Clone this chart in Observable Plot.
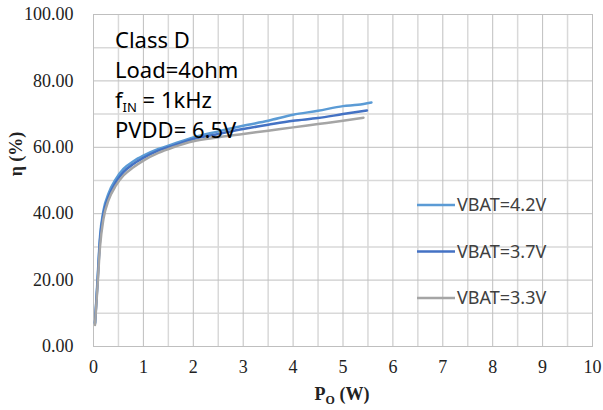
<!DOCTYPE html>
<html><head><meta charset="utf-8">
<script src="https://cdn.jsdelivr.net/npm/d3@7"></script>
<script src="https://cdn.jsdelivr.net/npm/@observablehq/plot@0.6"></script>
<style>body{margin:0;background:#fff}#c{position:relative;width:603px;height:410px}</style>
</head><body><div id="c"></div>
<script>
const series = ["VBAT=4.2V","VBAT=3.7V","VBAT=3.3V"];
const colors = ["#5b9bd5","#4472c4","#a5a5a5"];
const po42 = [0.03,0.08,0.13,0.2,0.3,0.45,0.6,0.8,1.0,1.3,1.6,2.0,2.5,3.0,3.5,4.0,4.5,5.0,5.3,5.57];
const eff42 = [7,20,33,41,46,50.5,53.5,55.8,57.5,59.5,61,63,64.8,66.5,68,69.8,71,72.4,72.8,73.5];
const po37 = [0.03,0.08,0.13,0.2,0.3,0.45,0.6,0.8,1.0,1.3,1.6,2.0,2.5,3.0,3.5,4.0,4.5,5.0,5.48];
const eff37 = [7,19,32,40,45,49.5,52.5,55,56.8,59,60.5,62.5,64,65.5,66.8,68,68.8,70,71.1];
const po33 = [0.03,0.08,0.13,0.2,0.3,0.45,0.6,0.8,1.0,1.3,1.6,2.0,2.5,3.0,3.5,4.0,4.5,5.0,5.41];
const eff33 = [6.5,18,30,38.5,44,48.5,51.5,54,56,58.3,60,61.8,63,64,65,66,67,68,68.9];
const xTicks = [0,1,2,3,4,5,6,7,8,9,10];
const yTicks = [0,20,40,60,80,100];
const xMinor = [0.5,1.5,2.5,3.5,4.5,5.5,6.5,7.5,8.5,9.5];
const yMinor = [10,30,50,70,90];
const annot = ["Class D","Load=4ohm","fIN = 1kHz","PVDD= 6.5V"];

const rows = [];
[[po42,eff42],[po37,eff37],[po33,eff33]].forEach(([xs,ys],i)=>xs.forEach((x,j)=>rows.push({s:series[i],x,y:ys[j]})));

const vGrid = (vals) => Plot.link(vals, {x1:d=>d, x2:d=>d, y1:()=>0, y2:()=>100});
const hGrid = (vals) => Plot.link(vals, {y1:d=>d, y2:d=>d, x1:()=>0, x2:()=>10});

const plot = Plot.plot({
  width:603, height:410,
  marginLeft:93, marginRight:11, marginTop:14, marginBottom:64,
  x:{domain:[0,10], label:null},
  y:{domain:[0,100], label:null},
  color:{domain:series, range:colors},
  style:{fontFamily:"Liberation Serif", fontSize:"18px", color:"#222", background:"#fff"},
  marks:[
    Plot.link(xMinor, {x1:d=>d, x2:d=>d, y1:d=>0, y2:d=>100, stroke:"#d9d9d9", strokeWidth:1.5}),
    Plot.link(yMinor, {y1:d=>d, y2:d=>d, x1:d=>0, x2:d=>10, stroke:"#d9d9d9", strokeWidth:1.5}),
    Plot.link(xTicks, {x1:d=>d, x2:d=>d, y1:d=>0, y2:d=>100, stroke:"#bfbfbf", strokeWidth:1}),
    Plot.link(yTicks, {y1:d=>d, y2:d=>d, x1:d=>0, x2:d=>10, stroke:"#bfbfbf", strokeWidth:1}),
    Plot.frame({stroke:"#bfbfbf", strokeWidth:1}),
    Plot.line(rows,{x:"x", y:"y", z:"s", stroke:"s", strokeWidth:2.5, curve:"monotone-x"}),
    Plot.axisX({ticks:xTicks, tickSize:0, tickPadding:14, fontSize:18, label:null}),
    Plot.axisY({ticks:yTicks, tickSize:0, tickPadding:20, tickFormat:d=>d.toFixed(2), fontSize:18, label:null})
  ]
});
document.getElementById("c").appendChild(plot);

const svg = d3.select(plot);

// annotation
const ann = svg.append("g").attr("text-anchor","start").attr("font-family","'Noto Sans','Noto Sans CJK SC',sans-serif").attr("font-size",22).attr("fill","#000");
const lineY = [48,78,108,138];
ann.append("text").attr("x",115).attr("y",lineY[0]).text(annot[0]);
ann.append("text").attr("x",115).attr("y",lineY[1]).text(annot[1]);
const f = ann.append("text").attr("x",115).attr("y",lineY[2]);
f.append("tspan").text("f");
f.append("tspan").attr("font-size",13).attr("dy",4).text("IN");
f.append("tspan").attr("dy",-4).text(" = 1kHz");
ann.append("text").attr("x",115).attr("y",lineY[3]).text(annot[3]);

// legend
const lg = svg.append("g").attr("text-anchor","start").attr("font-family","'Noto Sans',sans-serif").attr("font-size",18).attr("fill","#404040");
const legY = [205,251.5,298];
series.forEach((s,i)=>{
  lg.append("line").attr("x1",417).attr("x2",455).attr("y1",legY[i]).attr("y2",legY[i]).attr("stroke",colors[i]).attr("stroke-width",2.5);
  lg.append("text").attr("x",457).attr("y",legY[i]).attr("dy","0.35em").text(s);
});

// axis titles
const yl = svg.append("text").attr("transform","translate(22,154) rotate(-90)").attr("text-anchor","middle")
  .attr("font-family","'Liberation Serif',serif").attr("font-weight","bold").attr("font-size",18).attr("fill","#222");
yl.text("η (%)");
const xl = svg.append("text").attr("x",342).attr("y",400).attr("text-anchor","middle")
  .attr("font-family","'Liberation Serif',serif").attr("font-weight","bold").attr("font-size",18).attr("fill","#222");
xl.append("tspan").text("P");
xl.append("tspan").attr("font-size",12).attr("dy",4).text("O");
xl.append("tspan").attr("dy",-4).text(" (W)");
</script>
</body></html>
